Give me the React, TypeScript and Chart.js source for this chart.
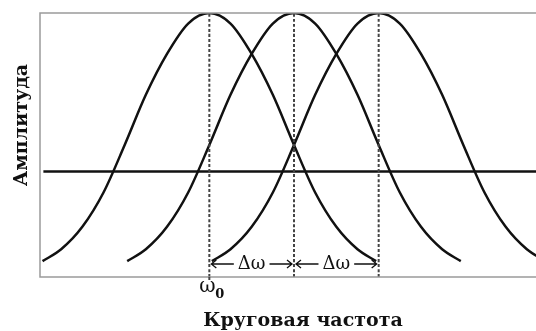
import React, { useEffect, useRef } from "react";
import { Chart, registerables } from "chart.js";

Chart.register(...registerables);

// Frequencies in units of Δω, ω0 = 0
const peakCenters = [0, 1, 2];
const curve1X = [-1.97, -1.75, -1.5, -1.25, -1.0, -0.75, -0.5, -0.25, 0, 0.25, 0.5, 0.75, 1.0, 1.25, 1.5, 1.75, 1.97];
const curve1Y = [0.06, 0.105, 0.19, 0.32, 0.5, 0.69, 0.845, 0.96, 1.0, 0.96, 0.845, 0.69, 0.5, 0.32, 0.19, 0.105, 0.06];
const curve2X = [-0.97, -0.75, -0.5, -0.25, 0.0, 0.25, 0.5, 0.75, 1, 1.25, 1.5, 1.75, 2.0, 2.25, 2.5, 2.75, 2.97];
const curve2Y = [0.06, 0.105, 0.19, 0.32, 0.5, 0.69, 0.845, 0.96, 1.0, 0.96, 0.845, 0.69, 0.5, 0.32, 0.19, 0.105, 0.06];
const curve3X = [0.03, 0.25, 0.5, 0.75, 1.0, 1.25, 1.5, 1.75, 2, 2.25, 2.5, 2.75, 3.0, 3.25, 3.5, 3.75, 3.97];
const curve3Y = [0.06, 0.105, 0.19, 0.32, 0.5, 0.69, 0.845, 0.96, 1.0, 0.96, 0.845, 0.69, 0.5, 0.32, 0.19, 0.105, 0.06];
const levelX = [-1.96, 4];
const levelY = [0.4, 0.4];
const xTitle = "Круговая частота";
const yTitle = "Амплитуда";
const deltaLabel = "Δω";
const omegaLabel = "ω";
const omegaSub = "0";

const toPts = (xs: number[], ys: number[]) => xs.map((x, i) => ({ x, y: ys[i] }));

const annotations = {
  id: "annotations",
  afterDatasetsDraw(chart: any) {
    const { ctx, chartArea, scales } = chart;
    const xs = scales.x;
    ctx.save();
    // frame
    ctx.strokeStyle = "#9a9a9a";
    ctx.lineWidth = 1.5;
    ctx.strokeRect(chartArea.left, chartArea.top, chartArea.right - chartArea.left, chartArea.bottom - chartArea.top);

    // ω0 tick extension
    const x0 = xs.getPixelForValue(peakCenters[0]);
    ctx.strokeStyle = "#444";
    ctx.lineWidth = 2;
    ctx.setLineDash([3, 2]);
    ctx.beginPath();
    ctx.moveTo(x0, chartArea.bottom);
    ctx.lineTo(x0, chartArea.bottom + 5);
    ctx.stroke();
    ctx.setLineDash([]);

    // Δω arrows
    const ay = 264;
    ctx.font = "18px 'DejaVu Serif'";
    ctx.fillStyle = "#111";
    ctx.textAlign = "center";
    ctx.textBaseline = "middle";
    for (let i = 0; i < peakCenters.length - 1; i++) {
      const a = xs.getPixelForValue(peakCenters[i]);
      const b = xs.getPixelForValue(peakCenters[i + 1]);
      const m = (a + b) / 2;
      ctx.fillText(deltaLabel, m, ay);
      const half = ctx.measureText(deltaLabel).width / 2 + 4;
      ctx.strokeStyle = "#111";
      ctx.lineWidth = 1.3;
      ctx.beginPath();
      ctx.moveTo(m - half, ay);
      ctx.lineTo(a + 2, ay);
      ctx.moveTo(a + 7, ay - 4);
      ctx.lineTo(a + 2, ay);
      ctx.lineTo(a + 7, ay + 4);
      ctx.moveTo(m + half, ay);
      ctx.lineTo(b - 2, ay);
      ctx.moveTo(b - 7, ay - 4);
      ctx.lineTo(b - 2, ay);
      ctx.lineTo(b - 7, ay + 4);
      ctx.stroke();
    }

    // ω0 label
    ctx.textBaseline = "alphabetic";
    ctx.textAlign = "center";
    ctx.font = "20px 'DejaVu Serif'";
    ctx.fillText(omegaLabel, x0 - 2, 292);
    ctx.font = "bold 13px 'DejaVu Serif'";
    ctx.textAlign = "left";
    ctx.fillText(omegaSub, x0 + 6, 298);

    // axis titles
    ctx.font = "bold 19px 'DejaVu Serif'";
    ctx.textAlign = "center";
    ctx.fillText(xTitle, 303, 326);
    ctx.translate(27, 125);
    ctx.rotate(-Math.PI / 2);
    ctx.fillText(yTitle, 0, 0);
    ctx.restore();
  },
};

export default function App() {
  const ref = useRef<HTMLCanvasElement>(null);
  useEffect(() => {
    if (!ref.current) return;
    const line = (data: any, extra: any = {}) => ({
      data,
      borderColor: "#111",
      borderWidth: 2.5,
      pointRadius: 0,
      fill: false,
      cubicInterpolationMode: "monotone",
      ...extra,
    });
    const chart = new Chart(ref.current, {
      type: "line",
      data: {
        datasets: [
          ...peakCenters.map((c) =>
            line(
              [
                { x: c, y: 0 },
                { x: c, y: 1 },
              ],
              { borderDash: [3, 2], borderWidth: 2, borderColor: "#444" }
            )
          ),
          line(toPts(curve1X, curve1Y)),
          line(toPts(curve2X, curve2Y)),
          line(toPts(curve3X, curve3Y)),
          line(toPts(levelX, levelY), { borderWidth: 2.5 }),
        ],
      },
      options: {
        animation: false,
        responsive: false,
        layout: { padding: { left: 40, top: 13, bottom: 54, right: 0 } },
        plugins: { legend: { display: false }, tooltip: { enabled: false } },
        scales: {
          x: { type: "linear", min: -2, max: 4, display: false },
          y: { type: "linear", min: 0, max: 1, display: false },
        },
      },
      plugins: [annotations],
    });
    return () => chart.destroy();
  }, []);
  return (
    <div style={{ position: "fixed", left: 0, top: 0, width: 536, height: 331, overflow: "hidden", background: "#fff" }}>
      <canvas ref={ref} width={548} height={331} style={{ width: 548, height: 331, display: "block" }} />
    </div>
  );
}
